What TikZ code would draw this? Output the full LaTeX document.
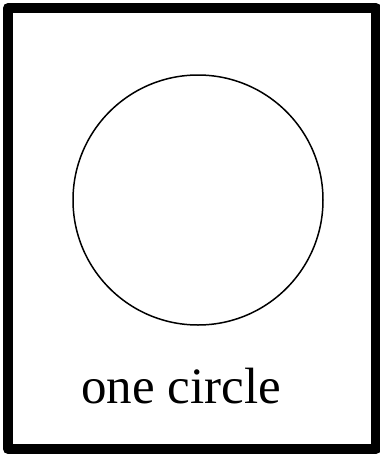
\documentclass[tikz,border=0pt]{standalone}
\usepackage{fontspec}
\setmainfont{Liberation Serif}
\begin{document}
\begin{tikzpicture}[x=1pt,y=-1pt,
  frame/.style={draw=black,line width=10pt,line join=round},
  ring/.style={draw=black,line width=1.5pt,circle,minimum size=250pt,inner sep=0pt},
  caption/.style={font=\fontsize{51}{61}\selectfont,inner sep=0pt,anchor=base west}]
\useasboundingbox (0,0) rectangle (380,456);
\draw[frame] (8,8) rectangle (376,449);
\node[ring] (c) at (198,200) {};
\node[caption] (t) at (81,403) {one circle};
\end{tikzpicture}
\end{document}
